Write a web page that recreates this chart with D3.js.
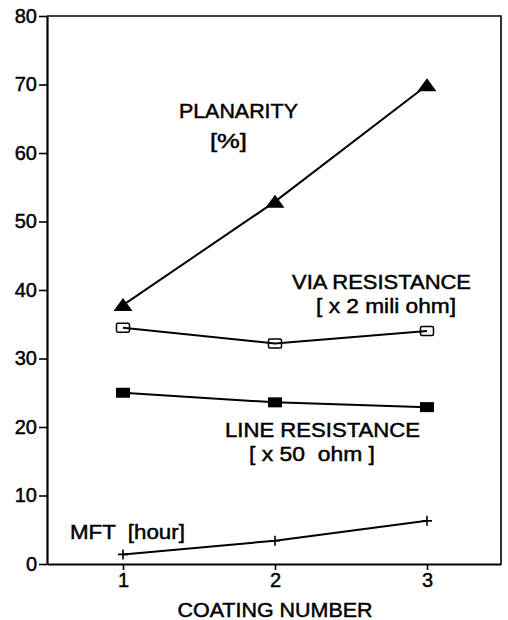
<!DOCTYPE html>
<html>
<head>
<meta charset="utf-8">
<script src="https://cdn.jsdelivr.net/npm/d3@7"></script>
<style>
  body { margin: 0; background: #fff; }
  text { font-family: "Liberation Sans", Arial, Helvetica, sans-serif; fill: #000; white-space: pre; stroke: #000; stroke-width: 0.45px; }
</style>
</head>
<body>
<div class="chart"></div>
<script>
// data
var coating = [1, 2, 3];
var planarity = [37.8, 52.9, 69.9];
var via_resistance = [34.5, 32.2, 34.0];
var line_resistance = [25.0, 23.6, 22.9];
var mft = [1.4, 3.4, 6.3];
var y_ticks = [0, 10, 20, 30, 40, 50, 60, 70, 80];

var width = 508, height = 620;
var margin = { top: 16, right: 7, bottom: 56, left: 47 };

var svg = d3.select(".chart").append("svg")
    .attr("width", width)
    .attr("height", height);

var x = d3.scaleLinear()
    .domain([0.5, 3.487])
    .range([margin.left, width - margin.right]);

var y = d3.scaleLinear()
    .domain([0, 80])
    .range([height - margin.bottom, margin.top]);

// frame (top + right)
svg.append("path")
    .attr("d", "M" + x(0.5) + "," + y(80) + "H" + x(3.487) + "V" + y(0))
    .attr("fill", "none")
    .attr("stroke", "#000")
    .attr("stroke-width", 1.6);

// axes
var y_axis = svg.append("g")
    .attr("transform", "translate(" + margin.left + ",0)")
    .call(d3.axisLeft(y).tickValues(y_ticks).tickSize(8).tickPadding(2).tickSizeOuter(0));

var x_axis = svg.append("g")
    .attr("transform", "translate(0," + y(0) + ")")
    .call(d3.axisBottom(x).tickValues(coating).tickFormat(d3.format("d")).tickSize(6).tickPadding(3).tickSizeOuter(0));

[y_axis, x_axis].forEach(function(a){
    a.select(".domain").attr("stroke-width", 2.2);
    a.selectAll(".tick line").attr("stroke-width", 1.6);
    a.selectAll(".tick text").attr("font-size", 20).attr("fill", "#000")
        .style("font-family", "'Liberation Sans', Arial, sans-serif");
});

svg.append("text")
    .attr("x", x(2))
    .attr("y", 617)
    .attr("text-anchor", "middle")
    .attr("font-size", 19.5)
    .attr("textLength", 195)
    .attr("lengthAdjust", "spacingAndGlyphs")
    .text("COATING NUMBER");

// series
var line = d3.line()
    .x(function(d, i){ return x(coating[i]); })
    .y(function(d){ return y(d); });

var series = [planarity, via_resistance, line_resistance, mft];
svg.append("g").selectAll("path")
    .data(series)
    .enter()
    .append("path")
    .attr("d", function(d){ return line(d); })
    .attr("fill", "none")
    .attr("stroke", "#000")
    .attr("stroke-width", 2);

// markers
svg.append("g").selectAll("path")
    .data(planarity)
    .enter()
    .append("path")
    .attr("transform", function(d, i){ return "translate(" + x(coating[i]) + "," + y(d) + ")"; })
    .attr("d", "M0,-7L9.5,6L-9.5,6Z")
    .attr("fill", "#000");

svg.append("g").selectAll("rect")
    .data(via_resistance)
    .enter()
    .append("rect")
    .attr("x", function(d, i){ return x(coating[i]) - 6.5; })
    .attr("y", function(d){ return y(d) - 4.5; })
    .attr("width", 13)
    .attr("height", 9)
    .attr("rx", 1.5)
    .attr("fill", "none")
    .attr("stroke", "#000")
    .attr("stroke-width", 1.5);

svg.append("g").selectAll("rect")
    .data(line_resistance)
    .enter()
    .append("rect")
    .attr("x", function(d, i){ return x(coating[i]) - 7; })
    .attr("y", function(d){ return y(d) - 5; })
    .attr("width", 14)
    .attr("height", 10)
    .attr("fill", "#000");

svg.append("g").selectAll("path")
    .data(mft)
    .enter()
    .append("path")
    .attr("transform", function(d, i){ return "translate(" + x(coating[i]) + "," + y(d) + ")"; })
    .attr("d", "M-5,0H5M0,-5V5")
    .attr("stroke", "#000")
    .attr("stroke-width", 1.6);

// labels
var labels = svg.append("g").attr("font-size", 19.5);
function add_label(txt, dx, dy, len){
    labels.append("text")
        .attr("x", x(dx))
        .attr("y", y(dy))
        .attr("textLength", len)
        .attr("lengthAdjust", "spacingAndGlyphs")
        .text(txt);
}
add_label("PLANARITY", 1.368, 65.1, 119);
add_label("[%]", 1.572, 60.7, 37);
add_label("VIA RESISTANCE", 2.112, 40.1, 179);
add_label("[ x 2 mili ohm]", 2.270, 36.6, 140);
add_label("LINE RESISTANCE", 1.671, 18.5, 195);
add_label("[ x 50  ohm ]", 1.829, 15.0, 126);
add_label("MFT  [hour]", 0.651, 3.65, 115);
</script>
</body>
</html>
